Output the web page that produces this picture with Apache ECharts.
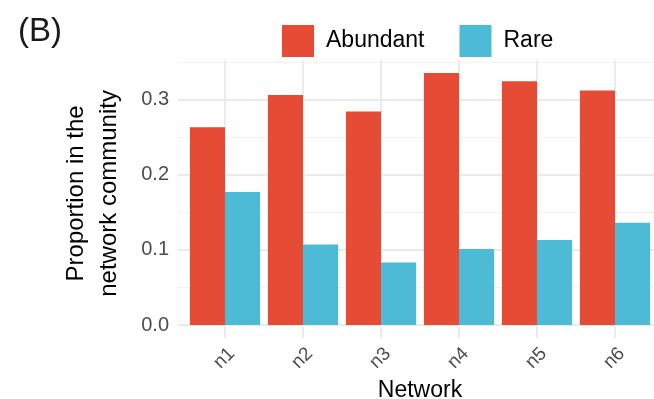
<!DOCTYPE html>
<html>
<head>
<meta charset="utf-8">
<script src="https://cdn.jsdelivr.net/npm/echarts@6/dist/echarts.min.js"></script>
<style>html,body{margin:0;padding:0;background:#fff}#c{width:654px;height:399px}</style>
</head>
<body>
<div id="c"></div>
<script>
var categories = ['n1', 'n2', 'n3', 'n4', 'n5', 'n6'];
var abundant = [0.263, 0.306, 0.284, 0.335, 0.324, 0.312];
var rare = [0.177, 0.107, 0.083, 0.101, 0.113, 0.136];
var seriesNames = ['Abundant', 'Rare'];
var yTicks = [0, 0.1, 0.2, 0.3];

var FONT = 'Liberation Sans, Arial, sans-serif';
var chart = echarts.init(document.getElementById('c'), null, {renderer: 'canvas'});
var hidden = {show: false};
chart.setOption({
  animation: false,
  backgroundColor: '#ffffff',
  title: {text: '(B)', left: 13, top: 10, textStyle: {fontFamily: FONT, fontSize: 33, fontWeight: 'normal', color: '#1a1a1a'}},
  legend: {
    data: seriesNames, top: 20, left: 277, icon: 'rect', itemWidth: 32, itemHeight: 32, itemGap: 35,
    textStyle: {fontFamily: FONT, fontSize: 23, color: '#000', padding: [0, 0, 0, 7]}
  },
  grid: [
    {left: 178, right: -8, top: 61.8, bottom: 74, outerBoundsMode: 'none'},
    {left: 178, right: -8, top: 99.4, bottom: 74, outerBoundsMode: 'none'},
    {left: 225, right: 39, top: 60, bottom: 61, outerBoundsMode: 'none'},
    {left: 186, right: 0, top: 61.8, bottom: 74, outerBoundsMode: 'none'}
  ],
  xAxis: [
    {gridIndex: 0, type: 'value', min: 0, max: 1, show: false},
    {gridIndex: 1, type: 'value', min: 0, max: 1, show: false},
    {gridIndex: 2, type: 'category', data: categories, boundaryGap: false,
      axisLine: hidden, axisTick: hidden, axisLabel: hidden,
      splitLine: {show: true, lineStyle: {color: '#ebebeb', width: 2}}},
    {gridIndex: 3, type: 'category', data: categories, boundaryGap: true,
      axisLine: hidden, axisTick: hidden,
      axisLabel: {rotate: 45, margin: 19, verticalAlign: 'top', fontFamily: FONT, fontSize: 19, color: '#4d4d4d'},
      name: 'Network', nameLocation: 'middle', nameGap: 51,
      nameTextStyle: {fontFamily: FONT, fontSize: 23, color: '#000'}}
  ],
  yAxis: [
    {gridIndex: 0, type: 'value', min: 0, max: 0.35, interval: 0.05,
      axisLine: hidden, axisTick: hidden, axisLabel: hidden,
      splitLine: {show: true, lineStyle: {color: '#f3f3f3', width: 1}},
      name: 'Proportion in the\nnetwork community', nameLocation: 'middle', nameRotate: 90, nameGap: 52,
      nameTextStyle: {fontFamily: FONT, fontSize: 24, color: '#000', lineHeight: 33}},
    {gridIndex: 1, type: 'value', min: 0, max: 0.3, interval: 0.1,
      axisLine: hidden, axisTick: hidden,
      axisLabel: {margin: 9, fontFamily: FONT, fontSize: 20, color: '#4d4d4d',
        formatter: function (v) { return v.toFixed(1); }},
      splitLine: {show: true, lineStyle: {color: '#ebebeb', width: 2}}},
    {gridIndex: 2, type: 'value', min: 0, max: 1, show: false},
    {gridIndex: 3, type: 'value', min: 0, max: 0.35, show: false}
  ],
  series: [
    {name: seriesNames[0], type: 'bar', xAxisIndex: 3, yAxisIndex: 3, data: abundant,
      barGap: '0%', barCategoryGap: '10%', itemStyle: {color: '#E64B35'}},
    {name: seriesNames[1], type: 'bar', xAxisIndex: 3, yAxisIndex: 3, data: rare,
      barGap: '0%', barCategoryGap: '10%', itemStyle: {color: '#4DBBD5'}}
  ]
});
</script>
</body>
</html>
